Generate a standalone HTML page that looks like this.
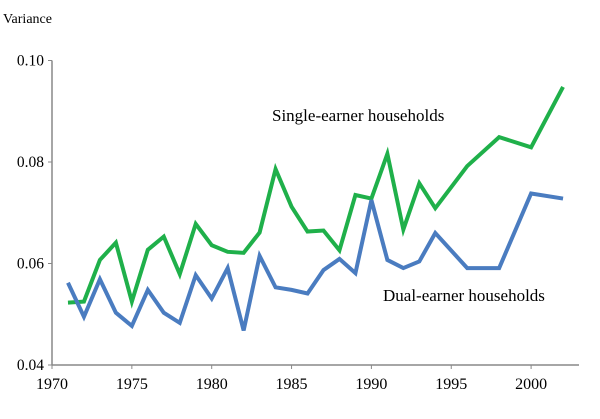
<!DOCTYPE html>
<html><head><meta charset="utf-8"><style>
html,body{margin:0;padding:0;background:#fff;}
svg text{font-family:"Liberation Serif",serif;fill:#000;}
</style></head><body>
<svg width="600" height="414" viewBox="0 0 600 414">
<text x="3" y="23" font-size="14">Variance</text>
<g id="axes"></g>
<g id="series"></g>
<text x="272" y="121" font-size="17">Single-earner households</text>
<text x="383" y="301" font-size="17">Dual-earner households</text>
</svg>
<script>
const years=[1971,1972,1973,1974,1975,1976,1977,1978,1979,1980,1981,1982,1983,1984,1985,1986,1987,1988,1989,1990,1991,1992,1993,1994,1996,1998,2000,2002];
const singleEarner=[0.0523,0.0525,0.0607,0.0641,0.0525,0.0627,0.0653,0.0579,0.0678,0.0636,0.0623,0.0621,0.0661,0.0786,0.0712,0.0663,0.0665,0.0626,0.0735,0.0728,0.0816,0.0667,0.0758,0.0709,0.0792,0.0849,0.0829,0.0948];
const dualEarner=[0.0562,0.0495,0.0569,0.0503,0.0477,0.0548,0.0503,0.0483,0.0577,0.0531,0.0591,0.0468,0.0615,0.0553,0.0548,0.0541,0.0587,0.0609,0.0581,0.0725,0.0607,0.0591,0.0604,0.0660,0.0591,0.0591,0.0738,0.0728];
const xTicks=[1970,1975,1980,1985,1990,1995,2000];
const yTicks=[0.04,0.06,0.08,0.10];
const yTickLabels=["0.04","0.06","0.08","0.10"];
const NS="http://www.w3.org/2000/svg";
const x=v=>52+(v-1970)*15.97;
const y=v=>365-(v-0.04)*5075;
const axes=document.getElementById('axes'),series=document.getElementById('series');
function mk(t,a,p){const e=document.createElementNS(NS,t);for(const k in a)e.setAttribute(k,a[k]);p.appendChild(e);return e;}
let l=mk('line',{x1:52,y1:y(0.10),x2:52,y2:365,stroke:'#888','stroke-width':1.5},axes);


l=mk('line',{x1:52,y1:365,x2:579,y2:365,stroke:'#888','stroke-width':1.5},axes);


yTicks.forEach((v,i)=>{
  mk('line',{x1:48,x2:52,y1:y(v),y2:y(v),stroke:'#888'},axes);
  const t=mk('text',{x:44,y:y(v)+5,'text-anchor':'end','font-size':15.5},axes);t.textContent=yTickLabels[i];
  
  
});
xTicks.forEach(v=>{
  mk('line',{x1:x(v),x2:x(v),y1:365,y2:369,stroke:'#888'},axes);
  const t=mk('text',{x:x(v),y:389,'text-anchor':'middle','font-size':16},axes);t.textContent=v;
  
  
});
function line(vals,col,name){
  const p=mk('polyline',{points:vals.map((v,i)=>x(years[i])+','+y(v)).join(' '),fill:'none',stroke:col,'stroke-width':4,'stroke-linejoin':'miter'},series);
  
  
}
line(singleEarner,'#1fb04a','single-earner-line');
line(dualEarner,'#4a7cc0','dual-earner-line');
</script>
</body></html>
